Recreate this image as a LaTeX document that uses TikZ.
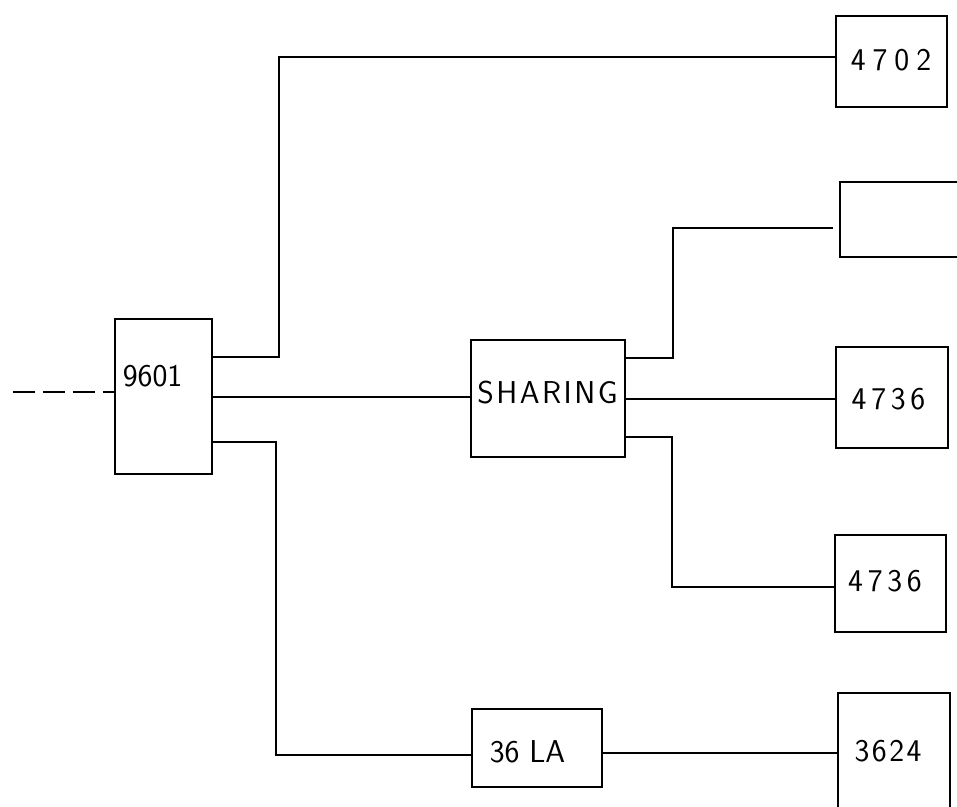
\documentclass[tikz,border=0pt]{standalone}
\usepackage{fontspec}
% spread the letters of a label by #1
\def\trkloop#1{\ifx#1\relax\else\hspace{\trk}#1\expandafter\trkloop\fi}
\def\trkfirst#1{#1\trkloop}
\newcommand\tracked[2]{\def\trk{#1}\trkfirst#2\relax}

\begin{document}
\begin{tikzpicture}[x=0.02cm,y=-0.02cm,line width=1.1pt,
  blk/.style={draw,rectangle,inner sep=0pt},
  lbl/.style={font=\sffamily\fontsize{18}{21}\selectfont,inner sep=0pt}]
  \useasboundingbox (0,0) rectangle (957,806);
  \begin{scope}
    \clip (0,0) rectangle (957,806);
    % boxes
    \node[blk,minimum width=1.94cm,minimum height=3.10cm] (n9601) at (163.5,396.5) {};
    \node[blk,minimum width=3.08cm,minimum height=2.34cm] (nshare) at (548,398.5) {};
    \node[blk,minimum width=2.22cm,minimum height=1.82cm] (n4702) at (891.5,61.5) {};
    \node[blk,minimum width=2.44cm,minimum height=1.50cm] (nspare) at (901,219.5) {};
    \node[blk,minimum width=2.24cm,minimum height=2.02cm] (n4736a) at (892,397.5) {};
    \node[blk,minimum width=2.22cm,minimum height=1.94cm] (n4736b) at (890.5,583.5) {};
    \node[blk,minimum width=2.60cm,minimum height=1.56cm] (n36la) at (537,748) {};
    \node[blk,minimum width=2.24cm,minimum height=2.56cm] (n3624) at (894,757) {};
    % labels
    \node[lbl] (t9601) at (152.5,376) {9601};
    \node[lbl] (tshare) at (547.5,392.5) {\tracked{0.05cm}{SHARING}};
    \node[lbl] (t4702) at (891,60) {\tracked{0.14cm}{4702}};
    \node[lbl] (t4736a) at (888.5,399) {\tracked{0.094cm}{4736}};
    \node[lbl] (t4736b) at (885,581) {\tracked{0.094cm}{4736}};
    \node[lbl] (t36la) at (527.5,752) {36 LA};
    \node[lbl] (t3624) at (888,751) {\tracked{0.05cm}{3624}};
    % connectors
    \coordinate (cin) at (13,392);
    \coordinate (cfree) at (833,228);
    \draw[dash pattern=on 0.44cm off 0.16cm] (cin) -- (n9601.west |- cin);
    \draw (n9601.east |- 0,357) -- (279,357) |- (n4702.west |- 0,57);
    \draw (n9601.east |- 0,397) -- (nshare.west |- 0,397);
    \draw (n9601.east |- 0,442) -- (276,442) |- (n36la.west |- 0,755);
    \draw (n36la.east |- 0,753) -- (n3624.west |- 0,753);
    \draw (nshare.east |- 0,358) -- (673,358) |- (cfree);
    \draw (nshare.east |- 0,399) -- (n4736a.west |- 0,399);
    \draw (nshare.east |- 0,437) -- (672,437) |- (n4736b.west |- 0,587);
  \end{scope}
\end{tikzpicture}
\end{document}
